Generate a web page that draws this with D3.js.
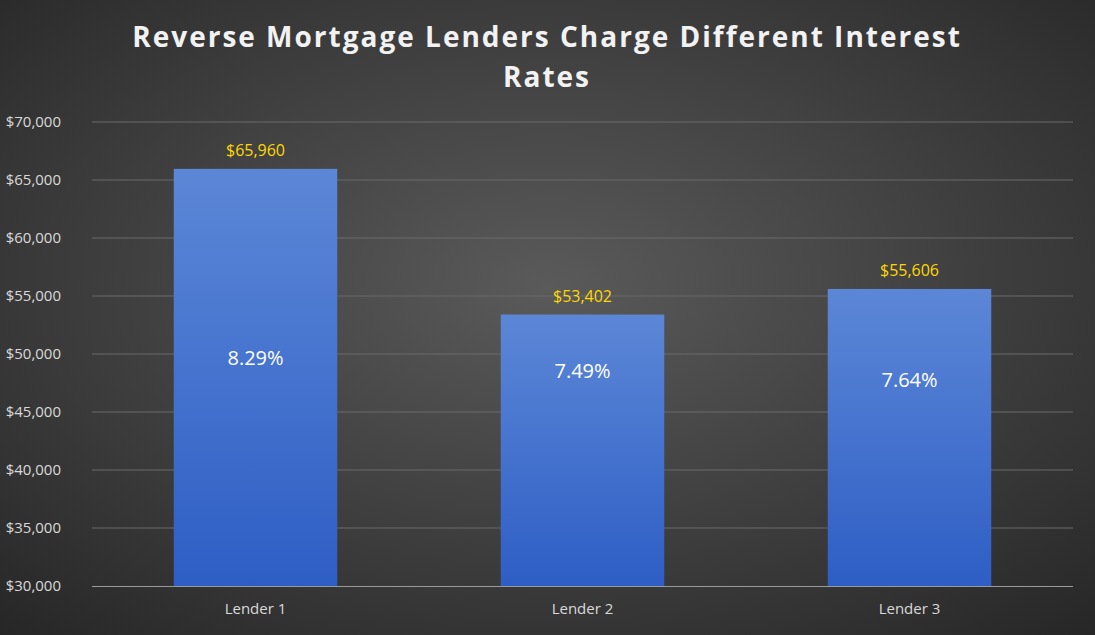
<!DOCTYPE html>
<html><head><meta charset="utf-8">
<script src="https://cdn.jsdelivr.net/npm/d3@7"></script>
<style>body{margin:0;background:#333}svg{display:block}</style>
</head><body>
<svg id="chart" width="1095" height="635"></svg>
<script>
const lenders = ['Lender 1', 'Lender 2', 'Lender 3'];
const amounts = [65960, 53402, 55606];
const rates = ['8.29%', '7.49%', '7.64%'];
// where the rate labels sit, in axis units
const rateAt = [49650, 48530, 47760];
const ticks = [30000, 35000, 40000, 45000, 50000, 55000, 60000, 65000, 70000];

const svg = d3.select('#chart');
const W = 1095, H = 635;
const defs = svg.append('defs');
const bg = defs.append('radialGradient').attr('id', 'bg').attr('cx', '50%').attr('cy', '45%').attr('r', '75%');
bg.append('stop').attr('offset', '0%').attr('stop-color', '#5a5a5a');
bg.append('stop').attr('offset', '100%').attr('stop-color', '#262626');
const bar = defs.append('linearGradient').attr('id', 'bar').attr('x1', 0).attr('x2', 0).attr('y1', 0).attr('y2', 1);
bar.append('stop').attr('offset', '0%').attr('stop-color', '#5c87d7');
bar.append('stop').attr('offset', '100%').attr('stop-color', '#2e5ec5');

svg.append('rect').attr('width', W).attr('height', H).attr('fill', 'url(#bg)');

const x = d3.scaleBand().domain(lenders).range([92, 1073]).paddingInner(0.5).paddingOuter(0.25);
const y = d3.scaleLinear().domain([30000, 70000]).range([586, 122]);

svg.selectAll('line.grid').data(ticks.slice(1)).enter().append('line')
  .attr('x1', 92).attr('x2', 1073).attr('y1', d => y(d)).attr('y2', d => y(d))
  .attr('stroke', '#6a6a6a').attr('stroke-width', 1);

svg.selectAll('text.tick').data(ticks).enter().append('text')
  .attr('x', 61).attr('y', d => y(d) + 5).attr('text-anchor', 'end')
  .attr('fill', '#d9d9d9').attr('font-family', 'Open Sans, sans-serif').attr('font-size', 15)
  .text(d => d3.format('$,')(d));

svg.selectAll('rect.bar').data(amounts).enter().append('rect')
  .attr('x', (d, i) => x(lenders[i])).attr('width', x.bandwidth())
  .attr('y', d => y(d)).attr('height', d => y(30000) - y(d))
  .attr('fill', 'url(#bar)');

svg.append('line').attr('x1', 92).attr('x2', 1073).attr('y1', 586.5).attr('y2', 586.5)
  .attr('stroke', '#9a9a9a');

svg.selectAll('text.val').data(amounts).enter().append('text')
  .attr('x', (d, i) => x(lenders[i]) + x.bandwidth() / 2).attr('y', d => y(d) - 13)
  .attr('text-anchor', 'middle').attr('fill', '#ffd800')
  .attr('font-family', 'Open Sans, sans-serif').attr('font-size', 16)
  .text(d => d3.format('$,')(d));

svg.selectAll('text.rate').data(rates).enter().append('text')
  .attr('x', (d, i) => x(lenders[i]) + x.bandwidth() / 2).attr('y', (d, i) => y(rateAt[i]) + 7)
  .attr('text-anchor', 'middle').attr('fill', '#fff')
  .attr('font-family', 'Open Sans, sans-serif').attr('font-size', 20)
  .text(d => d);

svg.selectAll('text.cat').data(lenders).enter().append('text')
  .attr('x', d => x(d) + x.bandwidth() / 2).attr('y', 614)
  .attr('text-anchor', 'middle').attr('fill', '#d9d9d9')
  .attr('font-family', 'Open Sans, sans-serif').attr('font-size', 15)
  .text(d => d);

const title = ['Reverse Mortgage Lenders Charge Different Interest', 'Rates'];
svg.selectAll('text.title').data(title).enter().append('text')
  .attr('x', 547).attr('y', (d, i) => 47 + i * 40).attr('text-anchor', 'middle')
  .attr('fill', '#f2f2f2').attr('font-family', 'Open Sans, sans-serif')
  .attr('font-weight', 'bold').attr('font-size', 28).attr('letter-spacing', 2)
  .text(d => d);
</script>
</body></html>
